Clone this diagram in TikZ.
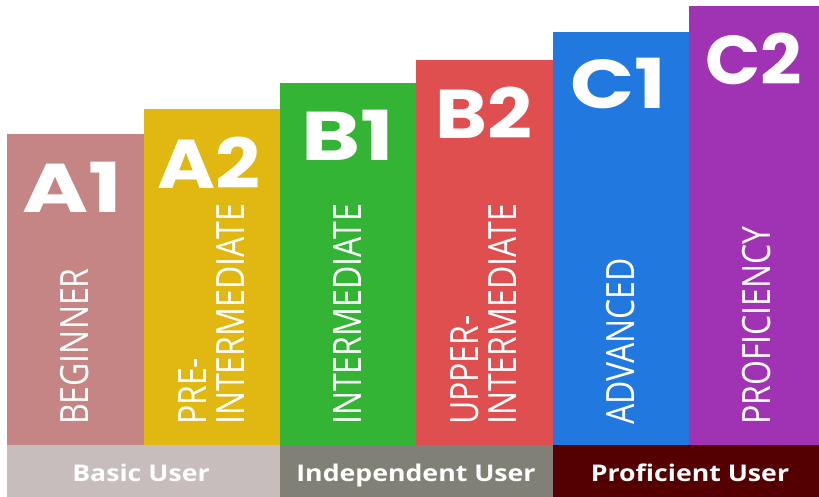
\documentclass[tikz,border=0pt]{standalone}
\usepackage{fontspec}
\newfontfamily\bigfa{Poppins}[FakeStretch=1.3]
\newfontfamily\bigfb{Poppins}[FakeStretch=1.14]
\newfontfamily\bigfc{Poppins}[FakeStretch=1.22]
\newfontfamily\bigfd{Poppins}[FakeStretch=1.05]
\newfontfamily\vertf{Open Sans}[FakeStretch=0.82]
\newfontfamily\bandf{Open Sans}[FakeStretch=1.16]
\definecolor{cA1}{HTML}{C58585}
\definecolor{cA2}{HTML}{E1B811}
\definecolor{cB1}{HTML}{34B434}
\definecolor{cB2}{HTML}{E04F4F}
\definecolor{cC1}{HTML}{2178DE}
\definecolor{cC2}{HTML}{A033B3}
\definecolor{cBasic}{HTML}{C6BDBC}
\definecolor{cIndep}{HTML}{808077}
\definecolor{cProf}{HTML}{540000}
\tikzset{
  levellabel/.style={anchor=north, inner sep=0pt, text=white},
  bigsize/.style={font=#1\bfseries\fontsize{69}{69}\selectfont},
  vlabel/.style={anchor=west, rotate=90, inner sep=0pt, text=white, align=left, font=\vertf\fontsize{39}{38}\selectfont},
  bandlabel/.style={anchor=base, inner sep=0pt, text=white, font=\bandf\bfseries\fontsize{23}{24}\selectfont}
}
\begin{document}
\begin{tikzpicture}[x=1pt,y=-1pt]
\useasboundingbox (0,0) rectangle (819,497);
% bars
\fill[cA1] (7,134) rectangle (144,445);
\fill[cA2] (144,109) rectangle (280,445);
\fill[cB1] (280,83) rectangle (416,445);
\fill[cB2] (416,60) rectangle (553,445);
\fill[cC1] (553,32) rectangle (689,445);
\fill[cC2] (689,6) rectangle (819,445);
% bands
\fill[cBasic] (7,445) rectangle (280,497);
\fill[cIndep] (280,445) rectangle (553,497);
\fill[cProf] (553,445) rectangle (819,497);
% level labels
\node[levellabel, bigsize=\bigfa] (lA1) at (72,162) {A1};
\node[levellabel, bigsize=\bigfb] (lA2) at (209,137) {A2};
\node[levellabel, bigsize=\bigfa] (lB1) at (347.5,110) {B1};
\node[levellabel, bigsize=\bigfb] (lB2) at (484,87) {B2};
\node[levellabel, bigsize=\bigfc] (lC1) at (618.5,58) {C1};
\node[levellabel, bigsize=\bigfd] (lC2) at (754,33) {C2};
% vertical labels
\node[vlabel] (vA1) at (75,425) {BEGINNER};
\node[vlabel] (vA2) at (211.5,425) {PRE-\\INTERMEDIATE};
\node[vlabel] (vB1) at (347.5,425) {INTERMEDIATE};
\node[vlabel] (vB2) at (484,425) {UPPER-\\INTERMEDIATE};
\node[vlabel] (vC1) at (621,425) {ADVANCED};
\node[vlabel] (vC2) at (756.5,425) {PROFICIENCY};
% band labels
\node[bandlabel] (bBasic) at (141,481) {Basic User};
\node[bandlabel] (bIndep) at (416,481) {Independent User};
\node[bandlabel] (bProf) at (690,481) {Proficient User};
\end{tikzpicture}
\end{document}
